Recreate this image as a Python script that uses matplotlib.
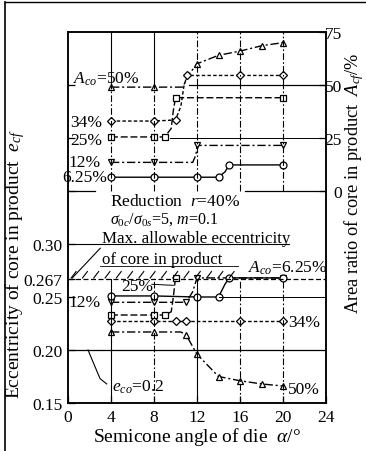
import matplotlib
matplotlib.use('Agg')
import matplotlib.pyplot as plt
import numpy as np

plt.rcParams['font.family'] = ['Liberation Serif', 'DejaVu Serif']
plt.rcParams['mathtext.fontset'] = 'custom'
plt.rcParams['mathtext.rm'] = 'Liberation Serif'
plt.rcParams['mathtext.it'] = 'Liberation Serif:italic'
plt.rcParams['mathtext.fallback'] = 'cm'

# ---------------- data ----------------
x_ticks = [0, 4, 8, 12, 16, 20, 24]
left_ticks = [0.15, 0.20, 0.25, 0.267, 0.30]
left_tick_labels = ['0.15', '0.20', '0.25', '0.267', '0.30']
right_ticks = [0, 25, 50, 75]
right_tick_labels = ['0', '25', '50', '75']

# Upper group: area ratio of core in product A_cf (%)  (right axis)
a50_x = [4, 8, 10.7, 11.1, 12, 14, 16, 18, 20]
a50_y = [49, 49, 49, 54, 60, 64, 66, 68.5, 70]
a50_mk = [0, 1, 4, 5, 6, 7, 8]

a34_x = [4, 8, 10, 10.5, 10.8, 11.1, 16, 20]
a34_y = [33, 33, 33.5, 40, 50, 54.5, 54.5, 54.5]
a34_mk = [0, 1, 2, 5, 6, 7]

a25_x = [4, 8, 9, 9.6, 9.8, 10, 20]
a25_y = [25.5, 25.5, 25.5, 29.5, 38, 44, 44]
a25_mk = [0, 1, 2, 5, 6]

a12_x = [4, 8, 11.6, 11.9, 12, 20]
a12_y = [13.5, 13.5, 13.5, 17, 21.5, 21.5]
a12_mk = [0, 1, 4, 5]

a06_x = [4, 8, 12, 14, 14.6, 15, 20]
a06_y = [6.5, 6.5, 6.5, 6.5, 9, 12.3, 12.3]
a06_mk = [0, 1, 2, 3, 5, 6]

# Lower group: eccentricity of core in product e_cf  (left axis)
e06_x = [4, 8, 12, 14, 14.6, 15, 20]
e06_y = [0.251, 0.251, 0.250, 0.250, 0.262, 0.268, 0.268]
e06_mk = [0, 1, 2, 3, 5, 6]

e12_x = [4, 8, 11, 11.6, 12, 20]
e12_y = [0.245, 0.245, 0.245, 0.255, 0.268, 0.268]
e12_mk = [0, 1, 2, 4, 5]

e25_x = [4, 8, 9, 9.6, 9.8, 10]
e25_y = [0.233, 0.233, 0.233, 0.236, 0.250, 0.268]
e25_mk = [0, 1, 2, 5]

e34_x = [4, 8, 10, 11, 16, 20]
e34_y = [0.227, 0.227, 0.227, 0.227, 0.227, 0.227]
e34_mk = [0, 1, 2, 3, 4, 5]

e50_x = [4, 8, 10.5, 11, 12, 14, 16, 18, 20]
e50_y = [0.217, 0.217, 0.217, 0.214, 0.196, 0.175, 0.171, 0.168, 0.166]
e50_mk = [0, 1, 3, 4, 5, 6, 7, 8]

e_max = 0.267
e_co = 0.20

# ---------------- figure ----------------
W, H = 366, 452
fig = plt.figure(figsize=(W / 100, H / 100), dpi=100)
fig.patch.set_facecolor('white')
L, R, T, B = 68, 326, 33, 404
ax = fig.add_axes([L / W, 1 - B / H, (R - L) / W, (B - T) / H])
ax.set_xlim(0, 24)
ax.set_ylim(0.15, 0.50)
ax2 = ax.twinx()
ax2.set_ylim(-100, 75)

for a in (ax, ax2):
    for s in a.spines.values():
        s.set_linewidth(1.1)
        s.set_color('black')

DD = (0, (6, 2, 1.5, 2))
LD = (0, (5, 2))
SD = (0, (2.5, 1.6))
mk = dict(markerfacecolor='white', markeredgecolor='black', markeredgewidth=0.9,
          markersize=5, color='black', linewidth=1.0)

# upper group
ax2.plot(a50_x, a50_y, linestyle=DD, marker='^', markevery=a50_mk, **mk)
ax2.plot(a34_x, a34_y, linestyle=SD, marker='D', markevery=a34_mk,
         **{**mk, 'markersize': 4.5})
ax2.plot(a25_x, a25_y, linestyle=LD, marker='s', markevery=a25_mk, **mk)
ax2.plot(a12_x, a12_y, linestyle=DD, marker='v', markevery=a12_mk, **mk)
ax2.plot(a06_x, a06_y, linestyle='-', marker='o', markevery=a06_mk, **mk)

# lower group
ax.plot(e34_x, e34_y, linestyle=SD, marker='D', markevery=e34_mk,
        **{**mk, 'markersize': 4.5})
ax.plot(e50_x, e50_y, linestyle=DD, marker='^', markevery=e50_mk, **mk)
ax.plot(e25_x, e25_y, linestyle=LD, marker='s', markevery=e25_mk, **mk)
ax.plot(e12_x, e12_y, linestyle=DD, marker='v', markevery=e12_mk, **mk)
ax.plot(e06_x, e06_y, linestyle='-', marker='o', markevery=e06_mk, **mk)

# grid-like guide lines
gkw = dict(color='black', linewidth=0.8)
for xv, ls in zip(x_ticks[1:-1], ['-', '-', DD, DD, DD]):
    ax2.plot([xv, xv], [50, 75], linestyle=ls, **gkw)
    ax2.plot([xv, xv], [0, 50], linestyle=DD, **gkw)
for xv, ls in zip(x_ticks[1:-1], ['-', DD, '-', DD, DD]):
    ax.plot([xv, xv], [0.15, e_max], linestyle=ls, **gkw)
ax.axhline(e_co, color='black', linewidth=0.9)
ax.plot([14, 24], [0.25, 0.25], color='black', linewidth=0.7)
ax.plot([0, 20.6], [0.30, 0.30], color='black', linewidth=0.8)
ax.plot([0, 2.5], [0.35, 0.35], color='black', linewidth=0.9)
ax2.plot([16.5, 24], [0, 0], color='black', linewidth=0.9)
ax2.plot([9.5, 24], [25, 25], color='black', linewidth=0.7)
ax2.plot([11.3, 24], [50, 50], color='black', linewidth=0.9)

# max allowable eccentricity line with hatching
ax.plot([0, 24], [e_max, e_max], color='black', linewidth=0.9, linestyle=(0, (4, 2)))
for hx in np.arange(0.3, 15.5, 1.05):
    ax.plot([hx, hx + 0.45], [e_max + 0.001, e_max + 0.007], color='black', linewidth=0.8)
ax.plot([0.4, 3.0], [e_max + 0.001, 0.296], color='black', linewidth=0.8)
ax.plot([3.0, 15.8], [0.279, 0.279], color='black', linewidth=0.6)

# ---------------- ticks ----------------
ax.set_xticks(x_ticks)
ax.set_xticklabels([str(v) for v in x_ticks])
ax.set_yticks(left_ticks)
ax.set_yticklabels(left_tick_labels)
ax.set_yticks([0.35, 0.40, 0.45], minor=True)
ax.tick_params(axis='both', which='both', direction='in', length=5, width=0.9,
               labelsize=12.5, pad=4)
ax2.set_yticks(right_ticks)
ax2.set_yticklabels(right_tick_labels)
ax2.tick_params(axis='y', direction='in', length=5, width=0.9, labelsize=12.5, pad=11.5)
for lb in ax2.get_yticklabels():
    lb.set_horizontalalignment('right')

# ---------------- labels ----------------
ax.set_xlabel(r'Semicone angle of die  $\alpha$/°', fontsize=14, labelpad=0)
fig.text(15 / W, 1 - 264 / H, r'Eccentricity of core in product  $e_{cf}$',
         rotation=90, ha='center', va='center', fontsize=14)
fig.text(354 / W, 1 - 183 / H, r'Area ratio of core in product  $A_{cf}$/%',
         rotation=90, ha='center', va='center', fontsize=13.2)

tk = dict(fontsize=12.5, color='black')
# upper annotations (right axis coords)
ax2.text(6.7, 53, r'$A_{co}$=50%', ha='right', va='center', **tk)
ax2.text(3.2, 32.5, '34%', ha='right', va='center', **tk)
ax2.text(3.2, 24, '25%', ha='right', va='center', **tk)
ax2.text(3.0, 13.7, '12%', ha='right', va='center', **tk)
ax2.text(3.6, 6.6, '6.25%', ha='right', va='center', **tk)

# text block (left axis coords)
ax.text(3.9, 0.3406, r'Reduction  $r$=40%', ha='left', va='center', **tk)
ax.text(3.9, 0.3236, r'$\sigma_{0c}/\sigma_{0s}$=5, $m$=0.1', ha='left', va='center',
        fontsize=11.5)
ax.text(3.16, 0.3057, 'Max. allowable eccentricity', ha='left', va='center',
        fontsize=12.2)
ax.text(3.16, 0.2858, 'of core in product', ha='left', va='center', fontsize=12.2)

# lower annotations
ax.text(3.0, 0.245, '12%', ha='right', va='center', **tk)
ax.text(6.4, 0.260, '25%', ha='center', va='center', **tk)
ax.plot([7.8, 9.8], [0.262, 0.261], color='black', linewidth=0.7)
ax.text(16.7, 0.278, r'$A_{co}$=6.25%', ha='left', va='center', **tk)
ax.text(20.5, 0.226, '34%', ha='left', va='center', **tk)
ax.text(20.5, 0.163, '50%', ha='left', va='center', **tk)
ax.text(4.1, 0.166, r'$e_{co}$=0.2', ha='left', va='center', **tk)
ax.plot([1.86, 2.98, 3.6], [e_co, 0.173, 0.168], color='black', linewidth=0.8)

# outer border
fig.add_artist(plt.Line2D([5 / W, 5 / W], [0, 1 - 3 / H], color='black', linewidth=1.2,
                          transform=fig.transFigure))
fig.add_artist(plt.Line2D([5 / W, 1], [1 - 3 / H, 1 - 3 / H], color='black', linewidth=1.0,
                          transform=fig.transFigure))

fig.savefig('out.png', dpi=100)
